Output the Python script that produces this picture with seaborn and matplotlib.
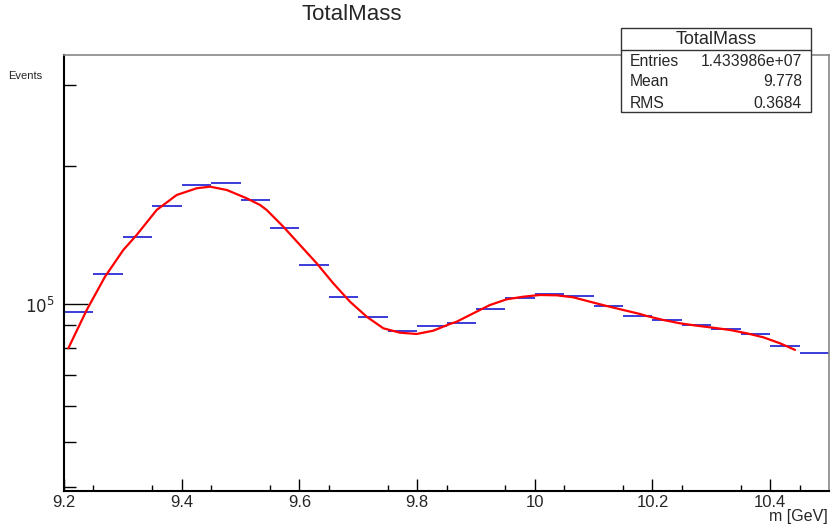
import numpy as np
import pandas as pd
import matplotlib
matplotlib.use('Agg')
import matplotlib.pyplot as plt
from matplotlib.ticker import FixedLocator, NullFormatter
import seaborn as sns

# histogram bins (lower edges) and contents
bin_lo = [9.20, 9.25, 9.30, 9.35, 9.40, 9.45, 9.50, 9.55, 9.60, 9.65,
          9.70, 9.75, 9.80, 9.85, 9.90, 9.95, 10.00, 10.05, 10.10, 10.15,
          10.20, 10.25, 10.30, 10.35, 10.40, 10.45]
counts = [96100, 116200, 140000, 163500, 181600, 183400, 168500, 146400, 121600, 103600,
          93700, 87300, 89600, 90900, 97500, 103100, 105100, 104100, 99000, 94200,
          92300, 90000, 88200, 86000, 81000, 78200]
bin_w = 0.05

# fit curve, sampled by eye along the red line
fit_x = [9.2073, 9.2386, 9.2697, 9.3008, 9.3235, 9.3575, 9.3915, 9.4255, 9.4481, 9.4765,
         9.5104, 9.5331, 9.5444, 9.5726, 9.6010, 9.6294, 9.6576, 9.6860, 9.7144, 9.7426,
         9.7709, 9.7993, 9.8275, 9.8559, 9.8673, 9.8955, 9.9239, 9.9523, 9.9805, 10.0088,
         10.0372, 10.0654, 10.0938, 10.1222, 10.1504, 10.1788, 10.1902, 10.2184, 10.2467,
         10.2751, 10.3033, 10.3317, 10.3601, 10.3883, 10.4167, 10.4422]
fit_y = [80070, 97040, 114680, 131130, 141400, 160270, 172790, 178700, 180140, 177180,
         169950, 164340, 160270, 147400, 134460, 122640, 110940, 101160, 93830, 88530,
         86600, 86040, 87470, 90470, 91500, 95440, 99500, 102380, 103730, 104620,
         104460, 103420, 101160, 99000, 97040, 95110, 94160, 92290, 90780,
         89690, 88790, 87780, 86340, 84620, 82120, 79430]

stats_labels = ['Entries', 'Mean', 'RMS']
stats_values = ['1.433986e+07', '9.778', '0.3684']

sns.set_style('white')
plt.rcParams['font.family'] = ['Liberation Sans', 'DejaVu Sans']

W, H = 831, 526
fig = plt.figure(figsize=(W / 100, H / 100), dpi=100)
ax = fig.add_axes([64 / W, 1 - 491 / H, (829 - 64) / W, (491 - 55) / H])

hist = pd.DataFrame({'lo': bin_lo, 'n': counts})
hist['hi'] = hist['lo'] + bin_w
ax.hlines(hist['n'], hist['lo'], hist['hi'], colors='#2b2bd6', lw=1.3, zorder=2)

fit = pd.DataFrame({'m': fit_x, 'n': fit_y})
sns.lineplot(data=fit, x='m', y='n', color='red', lw=1.6, ax=ax, zorder=3)
ax.lines[-1].set_solid_joinstyle('round')

ax.set_yscale('log')
ax.set_xlim(9.2, 10.5)
ax.set_ylim(39140, 348700)

ax.set_xticks([9.2, 9.4, 9.6, 9.8, 10.0, 10.2, 10.4])
ax.set_xticklabels(['9.2', '9.4', '9.6', '9.8', '10', '10.2', '10.4'])
ax.xaxis.set_minor_locator(FixedLocator(np.round(np.arange(9.25, 10.5, 0.1), 2)))
ax.set_yticks([1e5])
ax.set_yticklabels(['$10^5$'])
ax.yaxis.set_minor_locator(FixedLocator([4e4, 5e4, 6e4, 7e4, 8e4, 9e4, 2e5, 3e5]))
ax.yaxis.set_minor_formatter(NullFormatter())

ax.tick_params(axis='x', which='major', direction='in', length=8.6, width=1,
               labelsize=12, pad=3, color='black', bottom=True)
ax.tick_params(axis='x', which='minor', direction='in', length=4.3, width=1,
               color='black', bottom=True)
ax.tick_params(axis='y', which='major', direction='in', length=17, width=1,
               labelsize=12, pad=7, color='black', left=True)
ax.tick_params(axis='y', which='minor', direction='in', length=8.6, width=1,
               color='black', left=True)

for s in ['left', 'bottom']:
    ax.spines[s].set_color('black')
    ax.spines[s].set_linewidth(1.5)
for s in ['top', 'right']:
    ax.spines[s].set_color('#888888')
    ax.spines[s].set_linewidth(1.2)
ax.set_xlabel('')
ax.set_ylabel('')

fig.text(352 / W, 1 - 14 / H, 'TotalMass', fontsize=16, ha='center', va='center')
fig.text(8 / W, 1 - 76 / H, 'Events', fontsize=8, ha='left', va='center')
fig.text(828 / W, 1 - 524 / H, 'm [GeV]', fontsize=11.5, ha='right', va='bottom')

# stats box
bx0, bx1, by0, by1 = 621, 811, 28, 112
fig.patches.append(plt.Rectangle((bx0 / W, 1 - by1 / H), (bx1 - bx0) / W, (by1 - by0) / H,
                                 transform=fig.transFigure, facecolor='white',
                                 edgecolor='#333333', lw=1.0, zorder=5))
fig.lines.append(plt.Line2D([bx0 / W, bx1 / W], [1 - 50 / H, 1 - 50 / H],
                            transform=fig.transFigure, color='#333333', lw=1.0, zorder=6))
fig.text((bx0 + bx1) / 2 / W, 1 - 39 / H, 'TotalMass', fontsize=13, ha='center',
         va='center', zorder=7)
for i, (lab, val) in enumerate(zip(stats_labels, stats_values)):
    yy = 1 - (61 + 21 * i) / H
    fig.text(630 / W, yy, lab, fontsize=11.3, ha='left', va='center', zorder=7)
    fig.text(802 / W, yy, val, fontsize=11.3, ha='right', va='center', zorder=7)

fig.savefig('out.png', dpi=100)
